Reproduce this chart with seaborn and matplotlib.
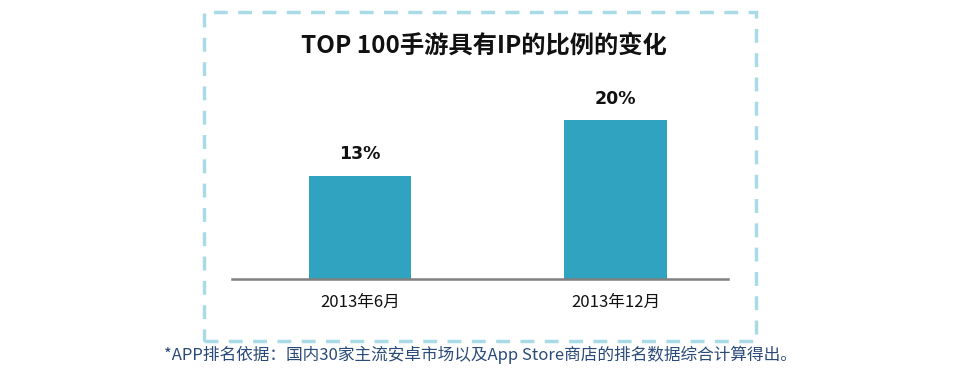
import matplotlib
matplotlib.use("Agg")
import matplotlib.pyplot as plt
import seaborn as sns
import pandas as pd
from matplotlib.patches import Rectangle

categories = ["2013年6月", "2013年12月"]
values = [13, 20]
value_labels = ["13%", "20%"]
title = "TOP 100手游具有IP的比例的变化"
footnote = "*APP排名依据：国内30家主流安卓市场以及App Store商店的排名数据综合计算得出。"

sns.set_theme(style="white")
plt.rcParams['font.family'] = ['Noto Sans CJK SC', 'DejaVu Sans']

df = pd.DataFrame({"cat": categories, "val": values})

fig = plt.figure(figsize=(9.75, 3.7), dpi=100)
ax = fig.add_axes([232/975, 91/370, 496/975, 189/370])
sns.barplot(data=df, x="cat", y="val", color="#2fa3c0", width=0.4,
            saturation=1, ax=ax, linewidth=0)
ax.set_xlim(-0.501, 1.44)
ax.set_ylim(0, 189/7.94)
for s in ["top", "right", "left"]:
    ax.spines[s].set_visible(False)
ax.spines["bottom"].set_color("#808080")
ax.spines["bottom"].set_linewidth(1.8)
ax.set_yticks([])
ax.set_xlabel("")
ax.set_ylabel("")
ax.tick_params(axis="x", length=0, pad=11, labelsize=12, colors="#111111")

for i, (v, lab) in enumerate(zip(values, value_labels)):
    ax.annotate(lab, (i, v), xytext=(0, 9), textcoords="offset points",
                ha="center", va="bottom", fontsize=12.5, fontweight="bold",
                color="#111111", family="DejaVu Sans")

fig.text(484/975, 1 - 46/370, title, ha="center", va="center",
         fontsize=17.5, fontweight="bold", color="#111111")
fig.text(480/975, 1 - 355/370, footnote, ha="center", va="center",
         fontsize=12, color="#2a4a78")

rect = Rectangle((204/975, 1 - 341/370), 552/975, 329/370,
                 transform=fig.transFigure, fill=False,
                 edgecolor="#a9dbe6", linewidth=2.5,
                 linestyle=(0, (4, 3)))
fig.patches.append(rect)

fig.savefig("out.png", dpi=100)
